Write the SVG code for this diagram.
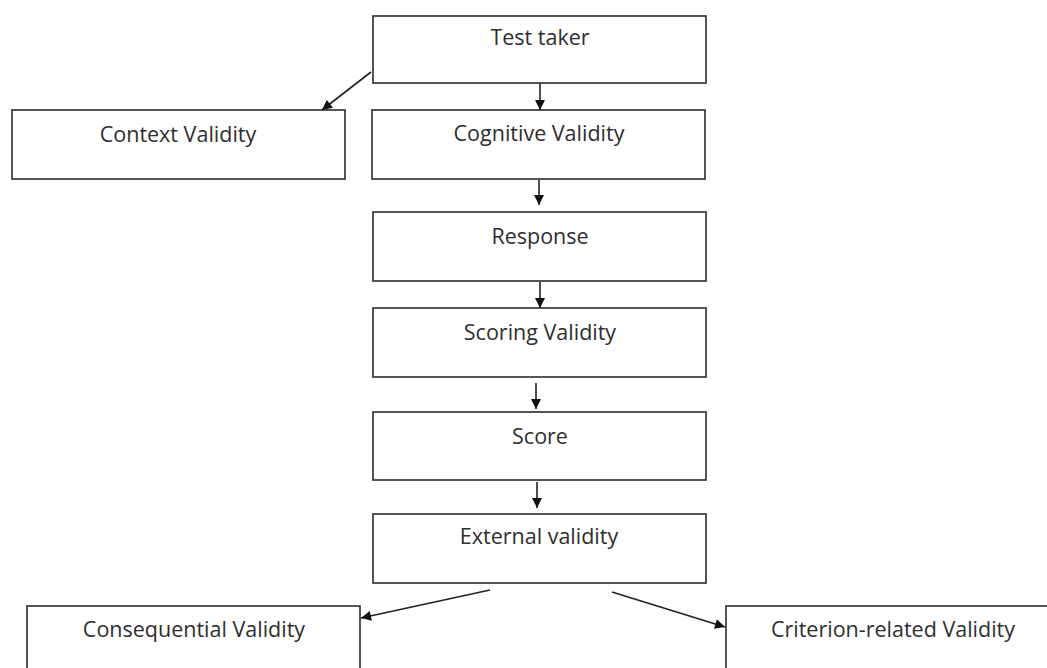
<svg xmlns="http://www.w3.org/2000/svg" width="1047" height="668" viewBox="0 0 1047 668">
  <style>
    .box { fill: #ffffff; stroke: #2b2b2b; stroke-width: 1.6; }
    .label { font-family: "Open Sans", "Liberation Sans", sans-serif; font-size: 21.5px; fill: #2e2e2e; text-anchor: middle; }
    .conn { stroke: #222222; stroke-width: 1.6; fill: none; marker-end: url(#arrow); }
  </style>
  <defs>
    <marker id="arrow" viewBox="0 0 10 10" refX="10" refY="5" markerWidth="11" markerHeight="10" markerUnits="userSpaceOnUse" orient="auto">
      <path d="M0,0 L10,5 L0,10 Z" fill="#111111"/>
    </marker>
  </defs>
  <rect width="1047" height="668" fill="#ffffff"/>

  <g id="test-taker">
    <rect class="box" x="373" y="16" width="333" height="67"/>
    <text class="label" x="540" y="45">Test taker</text>
  </g>
  <g id="context-validity">
    <rect class="box" x="12" y="110" width="333" height="69"/>
    <text class="label" x="178" y="142">Context Validity</text>
  </g>
  <g id="cognitive-validity">
    <rect class="box" x="372" y="110" width="333" height="69"/>
    <text class="label" x="539" y="141">Cognitive Validity</text>
  </g>
  <g id="response">
    <rect class="box" x="373" y="212" width="333" height="69"/>
    <text class="label" x="540" y="244">Response</text>
  </g>
  <g id="scoring-validity">
    <rect class="box" x="373" y="308" width="333" height="69"/>
    <text class="label" x="540" y="340">Scoring Validity</text>
  </g>
  <g id="score">
    <rect class="box" x="373" y="412" width="333" height="68"/>
    <text class="label" x="540" y="444">Score</text>
  </g>
  <g id="external-validity">
    <rect class="box" x="373" y="514" width="333" height="69"/>
    <text class="label" x="539" y="544">External validity</text>
  </g>
  <g id="consequential-validity">
    <rect class="box" x="27" y="606" width="333" height="80"/>
    <text class="label" x="194" y="637">Consequential Validity</text>
  </g>
  <g id="criterion-related-validity">
    <rect class="box" x="726" y="606" width="334" height="80"/>
    <text class="label" x="893" y="637">Criterion-related Validity</text>
  </g>

  <g id="connectors">
    <line class="conn" x1="540" y1="83" x2="540" y2="110"/>
    <line class="conn" x1="371" y1="72" x2="322" y2="110"/>
    <line class="conn" x1="539" y1="180" x2="539" y2="205"/>
    <line class="conn" x1="540" y1="282" x2="540" y2="308"/>
    <line class="conn" x1="536" y1="383" x2="536" y2="409"/>
    <line class="conn" x1="537" y1="482" x2="537" y2="508"/>
    <line class="conn" x1="490" y1="590" x2="361" y2="618"/>
    <line class="conn" x1="612" y1="592" x2="725" y2="627"/>
  </g>
</svg>
